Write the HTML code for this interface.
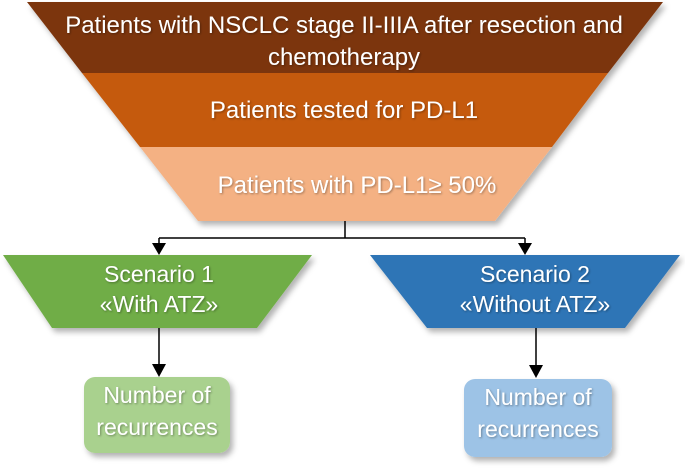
<!DOCTYPE html>
<html><head><meta charset="utf-8"><style>
html,body{margin:0;padding:0;background:#fff;}
svg{display:block;}
text{font-family:"Liberation Sans",sans-serif;fill:#fff;text-anchor:middle;}
</style></head><body>
<svg width="685" height="468" viewBox="0 0 685 468" xmlns="http://www.w3.org/2000/svg">
<defs>
<filter id="sh" x="-10%" y="-10%" width="130%" height="140%">
<feDropShadow dx="3" dy="4" stdDeviation="3" flood-color="#000" flood-opacity="0.3"/>
</filter>
<filter id="ts"><feDropShadow dx="1" dy="1" stdDeviation="1" flood-color="#000" flood-opacity="0.35"/></filter>
</defs>
<g filter="url(#sh)">
<polygon points="27,2 663,2 608,73 82,73" fill="#7b3510"/>
<polygon points="82,73 608,73 552,147 140,147" fill="#c55a11"/>
<polygon points="140,147 552,147 495,221 198,221" fill="#f4b183"/>
<polygon points="3,255 312,255 257,328 52,328" fill="#70ad47"/>
<polygon points="370,255 680,255 625,328 427,328" fill="#2e75b6"/>
<rect x="84" y="377" width="146" height="76" rx="11" fill="#a9d18e"/>
<rect x="464" y="379" width="148" height="78" rx="11" fill="#9dc3e6"/>
</g>
<g stroke="#000" stroke-width="1.5" fill="none">
<line x1="345" y1="221" x2="345" y2="238"/>
<line x1="159" y1="238" x2="525" y2="238"/>
<line x1="159" y1="238" x2="159" y2="245"/>
<line x1="525" y1="238" x2="525" y2="245"/>
<line x1="159" y1="328" x2="159" y2="366"/>
<line x1="536" y1="328" x2="536" y2="367"/>
</g>
<g fill="#000">
<polygon points="152,243 166,243 159,255"/>
<polygon points="518,243 532,243 525,255"/>
<polygon points="152,364 166,364 159,377"/>
<polygon points="529,365 543,365 536,378"/>
</g>
<g filter="url(#ts)" font-size="24">
<text x="344" y="33">Patients with NSCLC stage II-IIIA after resection and</text>
<text x="344" y="65">chemotherapy</text>
<text x="344" y="118">Patients tested for PD-L1</text>
<text x="357" y="193">Patients with PD-L1≥ 50%</text>
</g>
<g filter="url(#ts)" font-size="23">
<text x="159" y="282">Scenario 1</text>
<text x="159" y="312">«With ATZ»</text>
<text x="535" y="282">Scenario 2</text>
<text x="535" y="312">«Without ATZ»</text>
<text x="157" y="403">Number of</text>
<text x="157" y="435">recurrences</text>
<text x="538" y="405">Number of</text>
<text x="538" y="437">recurrences</text>
</g>
</svg>
</body></html>
